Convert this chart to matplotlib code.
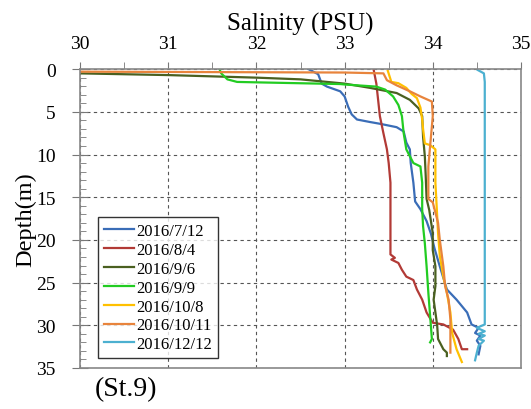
import matplotlib.pyplot as plt
from matplotlib.ticker import MultipleLocator

# salinity profiles (depth in m, salinity in PSU)
labels = ["2016/7/12", "2016/8/4", "2016/9/6", "2016/9/9",
          "2016/10/8", "2016/10/11", "2016/12/12"]
colors = ["#3A6DB7", "#B23A36", "#4A6020", "#22CC22",
          "#FFC000", "#E8843C", "#4CB0D0"]

sal_0712 = [32.59, 32.70, 32.74, 32.80, 32.95, 33.00, 33.04, 33.08, 33.14, 33.29, 33.40,
            33.59, 33.67, 33.70, 33.74, 33.75, 33.78, 33.80, 33.86, 33.93, 33.98, 34.02,
            34.08, 34.16, 34.27, 34.39, 34.44, 34.52, 34.48, 34.54, 34.50, 34.54, 34.52]
dep_0712 = [0.0, 0.6, 1.7, 2.05, 2.6, 3.2, 4.4, 5.3, 5.9, 6.2, 6.4,
            6.8, 7.3, 8.6, 9.4, 11.0, 13.3, 15.5, 16.4, 17.8, 19.3, 21.0,
            23.1, 25.8, 27.0, 28.5, 29.9, 30.3, 30.9, 31.2, 31.8, 32.4, 33.4]

sal_0804 = [33.33, 33.36, 33.38, 33.40, 33.44, 33.48, 33.50, 33.52, 33.52, 33.57,
            33.53, 33.61, 33.65, 33.70, 33.78, 33.82, 33.88, 33.93, 34.00, 34.12,
            34.23, 34.29, 34.33, 34.39]
dep_0804 = [0.1, 1.7, 3.6, 5.5, 7.5, 9.4, 11.0, 13.3, 21.7, 22.1,
            22.3, 22.7, 23.5, 24.3, 24.7, 25.8, 27.0, 28.5, 29.7, 29.9,
            30.5, 31.6, 32.8, 32.8]

sal_0906 = [30.0, 31.0, 32.0, 32.5, 33.0, 33.29, 33.59, 33.74, 33.84, 33.88, 33.89,
            33.91, 33.92, 33.93, 33.96, 34.00, 34.00, 34.03, 34.03, 34.01, 34.03,
            34.05, 34.06, 34.12, 34.16, 34.16]
dep_0906 = [0.5, 0.7, 1.0, 1.2, 1.7, 2.2, 2.8, 3.6, 4.6, 5.5, 7.9,
            10.2, 12.5, 15.2, 16.5, 19.2, 21.2, 23.1, 25.4, 27.0, 28.5,
            30.0, 31.6, 32.8, 33.2, 33.6]

sal_0909 = [31.58, 31.60, 31.67, 31.78, 32.00, 32.95, 33.00, 33.36, 33.46, 33.55,
            33.61, 33.65, 33.67, 33.70, 33.78, 33.86, 33.88, 33.88, 33.89, 33.91,
            33.93, 33.95, 33.97, 33.99, 33.97]
dep_0909 = [0.0, 0.5, 1.2, 1.5, 1.55, 1.75, 1.8, 2.05, 2.4, 3.2,
            4.2, 5.5, 7.5, 9.4, 11.0, 11.4, 13.3, 16.4, 18.4, 20.4,
            23.1, 26.2, 28.9, 31.6, 32.0]

sal_1008 = [33.49, 33.53, 33.61, 33.70, 33.76, 33.82, 33.86, 33.88, 33.89, 33.91,
            33.97, 34.03, 34.03, 34.05, 34.06, 34.08, 34.12, 34.16, 34.20, 34.22,
            34.27, 34.33]
dep_1008 = [0.2, 1.5, 1.65, 2.2, 2.9, 3.4, 4.5, 5.9, 7.0, 8.7,
            8.9, 9.4, 13.3, 17.2, 19.2, 21.9, 24.3, 26.2, 28.5, 30.9,
            32.8, 34.3]

sal_1011 = [30.0, 33.0, 33.44, 33.48, 33.59, 33.74, 33.86, 33.99, 34.00, 33.99,
            33.97, 33.95, 33.95, 34.00, 34.06, 34.08, 34.12, 34.14, 34.18, 34.20,
            34.20]
dep_1011 = [0.3, 0.4, 0.5, 1.3, 1.9, 2.6, 3.2, 3.8, 5.5, 6.7,
            9.0, 11.4, 15.2, 15.6, 18.0, 20.0, 23.1, 25.4, 27.0, 29.3,
            33.2]

sal_1212 = [34.51, 34.58, 34.59, 34.59, 34.59, 34.50, 34.59, 34.52, 34.59, 34.52,
            34.58, 34.52, 34.50, 34.48]
dep_1212 = [0.1, 0.5, 1.5, 15.0, 29.9, 30.3, 30.7, 31.0, 31.2, 31.6,
            31.8, 32.4, 33.2, 34.1]

profiles = [(sal_0712, dep_0712), (sal_0804, dep_0804), (sal_0906, dep_0906),
            (sal_0909, dep_0909), (sal_1008, dep_1008), (sal_1011, dep_1011),
            (sal_1212, dep_1212)]

plt.rcParams['font.family'] = ['Liberation Serif', 'DejaVu Serif']

fig = plt.figure(figsize=(5.31, 4.10), dpi=100)
ax = fig.add_axes([0.151, 0.100, 0.830, 0.729])

for (sal, dep), col, lab in zip(profiles, colors, labels):
    ax.plot(sal, dep, color=col, linewidth=1.6, label=lab)

ax.set_xlim(30, 35)
ax.set_ylim(35, 0)
ax.xaxis.tick_top()
ax.xaxis.set_label_position('top')
ax.xaxis.set_major_locator(MultipleLocator(1))
ax.xaxis.set_minor_locator(MultipleLocator(0.5))
ax.yaxis.set_major_locator(MultipleLocator(5))
ax.yaxis.set_minor_locator(MultipleLocator(1))

ax.tick_params(axis='x', which='major', direction='out', length=5, color='#777777',
               labelsize=14, pad=7)
ax.tick_params(axis='x', which='minor', direction='out', length=5, color='#777777')
ax.tick_params(axis='y', which='major', direction='inout', length=11, color='#777777',
               labelsize=14, pad=12)
ax.tick_params(axis='y', which='minor', direction='in', length=4, color='#777777')

for s in ax.spines.values():
    s.set_color('#888888')
    s.set_linewidth(1.2)

ax.grid(which='major', color='#555555', linestyle=(0, (3, 3)), linewidth=0.8)
ax.set_axisbelow(True)

ax.set_xlabel('Salinity (PSU)', fontsize=18, labelpad=4)
ax.set_ylabel('Depth(m)', fontsize=17.5, labelpad=0)

leg = ax.legend(loc='lower left', bbox_to_anchor=(0.041, 0.033), fontsize=12,
                frameon=True, fancybox=False, handlelength=1.8, handletextpad=0.15,
                labelspacing=0.17, borderpad=0.35, borderaxespad=0)
leg.get_frame().set_edgecolor('black')
leg.get_frame().set_linewidth(1.0)

fig.text(0.179, 0.049, '(St.9)', fontsize=20, ha='left', va='center')

fig.savefig('out.png', dpi=100)
